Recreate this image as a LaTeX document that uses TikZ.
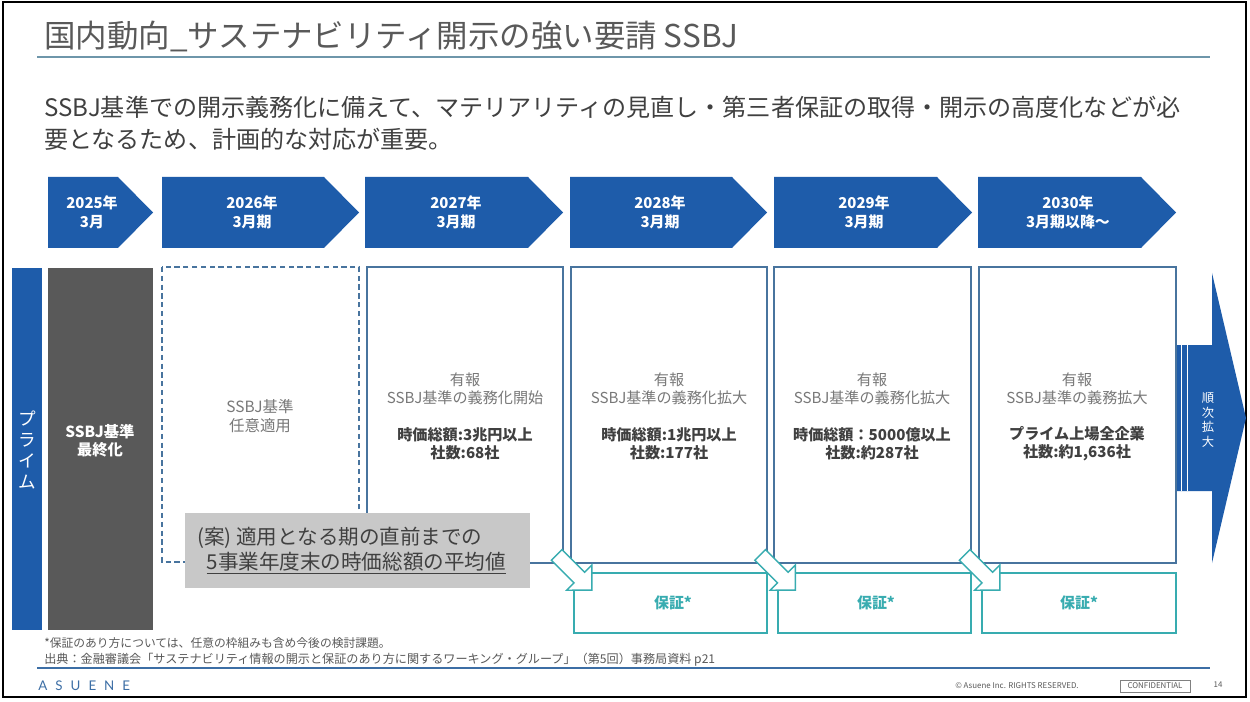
\documentclass[tikz,border=0pt]{standalone}
\usepackage{fontspec}
\setmainfont{Noto Sans CJK JP}
\newfontfamily\logofont[LetterSpace=60]{Lato}
\definecolor{ssbjblue}{RGB}{30,92,170}
\definecolor{stageline}{RGB}{72,116,158}
\definecolor{assurance}{RGB}{56,172,176}
\definecolor{darkfill}{RGB}{89,89,89}
\definecolor{notefill}{RGB}{200,200,200}
\definecolor{bodygray}{RGB}{120,120,120}
\definecolor{strongtext}{RGB}{64,64,64}
\definecolor{titlegray}{RGB}{89,89,89}
\definecolor{titlerule}{RGB}{110,150,170}
\definecolor{footrule}{RGB}{60,110,165}
\usetikzlibrary{positioning}
\begin{document}
\begin{tikzpicture}[x=0.02cm,y=-0.02cm,
  period/.style={fill=ssbjblue},
  yearlabel/.style={text=white,align=center,inner sep=0pt,font=\bfseries\fontsize{8.5}{10.8}\selectfont},
  stagebox/.style={draw=stageline,line width=0.8pt},
  softtext/.style={text=bodygray,align=center,inner sep=0pt,font=\fontsize{8.6}{10.4}\selectfont},
  boldtext/.style={text=strongtext,align=center,inner sep=0pt,font=\bfseries\fontsize{8.6}{10.4}\selectfont},
  assurebox/.style={draw=assurance,line width=0.8pt},
  tilt/.style={draw=assurance,fill=white,line width=0.8pt},
  lead/.style={anchor=west,inner sep=0pt,text=strongtext,font=\fontsize{13.7}{16}\selectfont}]
\useasboundingbox (0,0) rectangle (1250,702);
\fill[white] (0,0) rectangle (1250,702);
\draw[line width=1.2pt] (3,2) rectangle (1246,697);
\node[anchor=west,inner sep=0pt,text=titlegray,font=\fontsize{17.9}{20}\selectfont] (title) at (44,36) {国内動向\_サステナビリティ開示の強い要請 SSBJ};
\draw[titlerule,line width=0.9pt] (37,57) -- (1210,57);
\node[lead] (lead1) at (44,107) {SSBJ基準での開示義務化に備えて、マテリアリティの見直し・第三者保証の取得・開示の高度化などが必};
\node[lead] (lead2) at (44,139) {要となるため、計画的な対応が重要。};
\fill[period] (48,177) -- (118,177) -- (153,212.5) -- (118,248) -- (48,248) -- cycle;
\fill[period] (162,177) -- (324,177) -- (359,212.5) -- (324,248) -- (162,248) -- cycle;
\fill[period] (365,177) -- (528,177) -- (563,212.5) -- (528,248) -- (365,248) -- cycle;
\fill[period] (570,177) -- (732,177) -- (767,212.5) -- (732,248) -- (570,248) -- cycle;
\fill[period] (774,177) -- (937,177) -- (972,212.5) -- (937,248) -- (774,248) -- cycle;
\fill[period] (978,177) -- (1141,177) -- (1176,212.5) -- (1141,248) -- (978,248) -- cycle;
\node[yearlabel] (y2025) at (92,212) {2025年\\3月};
\node[yearlabel] (y2026) at (252,212) {2026年\\3月期};
\node[yearlabel] (y2027) at (456,212) {2027年\\3月期};
\node[yearlabel] (y2028) at (660,212) {2028年\\3月期};
\node[yearlabel] (y2029) at (864,212) {2029年\\3月期};
\node[yearlabel] (y2030) at (1068,212) {2030年\\3月期以降〜};
\fill[ssbjblue] (12,268) rectangle (42,630);
\node[text=white,align=center,inner sep=0pt,font=\fontsize{10}{12}\selectfont] (prime) at (27,450) {プ\\ラ\\イ\\ム};
\fill[darkfill] (48,268) rectangle (153,630);
\node[text=white,align=center,inner sep=0pt,font=\bfseries\fontsize{8.7}{10.4}\selectfont] (final) at (100,441) {SSBJ基準\\最終化};
\draw[stageline,line width=0.8pt,dash pattern=on 3pt off 2pt] (162,267) rectangle (359,562);
\node[softtext,font=\fontsize{8.8}{10.4}\selectfont] (optional) at (260,416) {SSBJ基準\\任意適用};
\draw[stagebox] (367,267) rectangle (563,563);
\draw[stagebox] (571,267) rectangle (767,563);
\draw[stagebox] (774,267) rectangle (971,563);
\draw[stagebox] (979,267) rectangle (1176,563);
\node[softtext] (s2027) at (465,389) {有報\\SSBJ基準の義務化開始};
\node[boldtext] (c2027) at (465,444) {時価総額:3兆円以上\\社数:68社};
\node[softtext] (s2028) at (669,389) {有報\\SSBJ基準の義務化拡大};
\node[boldtext] (c2028) at (669,444) {時価総額:1兆円以上\\社数:177社};
\node[softtext] (s2029) at (872,389) {有報\\SSBJ基準の義務化拡大};
\node[boldtext] (c2029) at (872,444) {時価総額：5000億以上\\社数:約287社};
\node[softtext] (s2030) at (1077,389) {有報\\SSBJ基準の義務拡大};
\node[boldtext] (c2030) at (1077,444) {プライム上場全企業\\社数:約1,636社};
\draw[assurebox] (574,573) rectangle (767,633);
\draw[assurebox] (778,573) rectangle (971,633);
\draw[assurebox] (982,573) rectangle (1176,633);
\node[text=assurance,inner sep=0pt,font=\bfseries\fontsize{8.5}{10}\selectfont] (a2028) at (673,603) {保証*};
\node[text=assurance,inner sep=0pt,font=\bfseries\fontsize{8.5}{10}\selectfont] (a2029) at (876,603) {保証*};
\node[text=assurance,inner sep=0pt,font=\bfseries\fontsize{8.5}{10}\selectfont] (a2030) at (1079,603) {保証*};
\draw[tilt,shift={(556.7,555)},rotate=-45] (0,-7.5) -- (32,-7.5) -- (32,-17.8) -- (49.7,0) -- (32,17.8) -- (32,7.5) -- (0,7.5) -- cycle;
\draw[tilt,shift={(760.2,555)},rotate=-45] (0,-7.5) -- (32,-7.5) -- (32,-17.8) -- (49.7,0) -- (32,17.8) -- (32,7.5) -- (0,7.5) -- cycle;
\draw[tilt,shift={(964.7,555)},rotate=-45] (0,-7.5) -- (32,-7.5) -- (32,-17.8) -- (49.7,0) -- (32,17.8) -- (32,7.5) -- (0,7.5) -- cycle;
\fill[notefill] (185,513) rectangle (530,588);
\node[anchor=west,align=left,inner sep=0pt,text=strongtext,font=\fontsize{11.7}{14.2}\selectfont] (rule) at (197,551) {(案) 適用となる期の直前までの\\\hspace*{0.45em}\underline{5事業年度末の時価総額の平均値}};
\fill[ssbjblue] (1177,345) -- (1212,345) -- (1212,273) -- (1246,418) -- (1212,563) -- (1212,491) -- (1177,491) -- cycle;
\draw[white,line width=0.7pt] (1181.5,345) -- (1181.5,491);
\draw[white,line width=0.7pt] (1187.5,345) -- (1187.5,491);
\node[text=white,align=center,inner sep=0pt,font=\fontsize{7}{8.5}\selectfont] (expand) at (1208,420) {順\\次\\拡\\大};
\node[anchor=west,inner sep=0pt,text=titlegray,font=\fontsize{6.7}{8}\selectfont] (foot1) at (44,643) {*保証のあり方については、任意の枠組みも含め今後の検討課題。};
\node[anchor=west,inner sep=0pt,text=titlegray,font=\fontsize{6.9}{8}\selectfont] (foot2) at (44,660) {出典：金融審議会「サステナビリティ情報の開示と保証のあり方に関するワーキング・グループ」（第5回）事務局資料 p21};
\draw[footrule,line width=0.9pt] (37,668) -- (1210,668);
\node[anchor=west,inner sep=0pt,text=footrule,font=\logofont\fontsize{7.6}{9}\selectfont] (logo) at (38,686) {ASUENE};
\node[anchor=west,inner sep=0pt,text=titlegray,font=\fontsize{4.5}{5}\selectfont] (rights) at (955,686) {© Asuene Inc. RIGHTS RESERVED.};
\node[draw=gray,line width=0.4pt,minimum width=1.4cm,minimum height=0.24cm,inner sep=0pt,text=titlegray,font=\fontsize{4.5}{5}\selectfont] (conf) at (1155,686) {CONFIDENTIAL};
\node[inner sep=0pt,text=titlegray,font=\fontsize{4.5}{5}\selectfont] (page) at (1218,685) {14};
\end{tikzpicture}
\end{document}
